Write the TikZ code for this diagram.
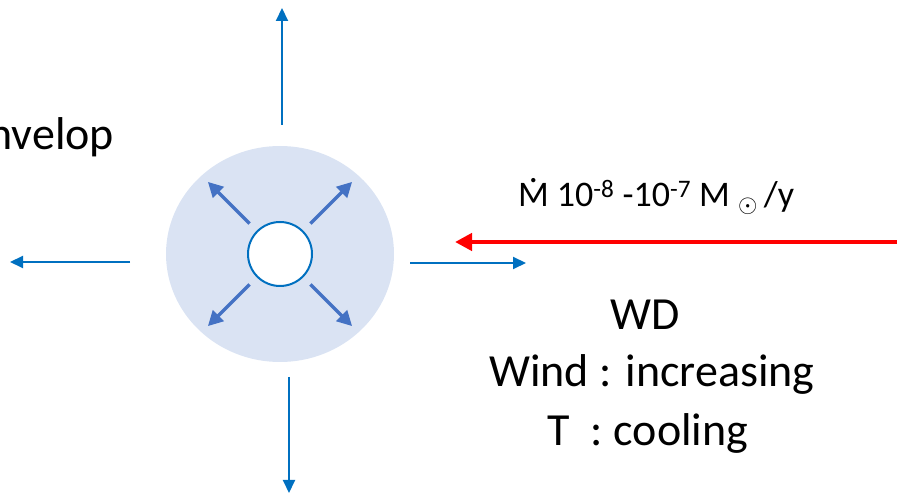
\documentclass[tikz,border=0pt]{standalone}
\usepackage{fontspec}
\setmainfont{Carlito}
\definecolor{windblue}{RGB}{0,112,192}
\definecolor{flowblue}{RGB}{68,114,196}
\definecolor{envfill}{RGB}{218,227,243}
\definecolor{accred}{RGB}{255,0,0}
\usetikzlibrary{arrows.meta,positioning,calc,shapes.geometric}
\newcommand{\Mdot}{\ooalign{M\cr\hidewidth\raisebox{0.68em}{.}\hidewidth\cr}}

\begin{document}
\begin{tikzpicture}[x=1pt,y=1pt, every node/.style={inner sep=0pt,outer sep=0pt},
  wind/.style={-{Triangle[length=13pt,width=12pt]},line width=2pt,windblue},
  flow/.style={-{Triangle[length=15pt,width=15pt]},line width=3.5pt,flowblue},
  accr/.style={-{Triangle[length=17pt,width=17pt]},line width=4.5pt,accred},
  big/.style={font=\fontsize{46}{58}\selectfont},
  small/.style={font=\fontsize{36}{43}\selectfont}]
\useasboundingbox (0,0) rectangle (897,498);
\clip (0,0) rectangle (897,498);
% envelope and white dwarf
\node[ellipse,fill=envfill,minimum width=228,minimum height=216] (env) at (280,244) {};
\node[circle,draw=windblue,line width=2pt,fill=white,minimum size=64] (wd) at (env.center) {};
\foreach \a in {45,135,225,315}
  \draw[flow] ([shift={(\a:11)}]wd.\a) -- ([shift={(\a:70)}]wd.\a);
% outflow
\coordinate (u0) at (282,373); \coordinate (u1) at (282,490);
\coordinate (l0) at (130,236); \coordinate (l1) at (10,236);
\coordinate (r0) at (410,235); \coordinate (r1) at (526,235);
\coordinate (d0) at (289,121); \coordinate (d1) at (289,5);
\draw[wind] (u0) -- (u1);
\draw[wind] (l0) -- (l1);
\draw[wind] (r0) -- (r1);
\draw[wind] (d0) -- (d1);
% accretion
\coordinate (a0) at (897,256); \coordinate (a1) at (455,256);
\draw[accr] (a0) -- (a1);
\node[small,anchor=base west] (mdot) at (518,291) {\Mdot{} 10\textsuperscript{-8} -10\textsuperscript{-7} M\ $_{\odot}$\,/y};
% labels
\node[big,anchor=base east] (envtxt) at (114,348) {Envelop};
\node[big,anchor=base] (wdname) at (645,168) {WD};
\node[big,anchor=base] (windtxt) at (652,111) {Wind : increasing};
\node[big,anchor=base] (temptxt) at (648,52) {T\ \ : cooling};
\end{tikzpicture}
\end{document}
